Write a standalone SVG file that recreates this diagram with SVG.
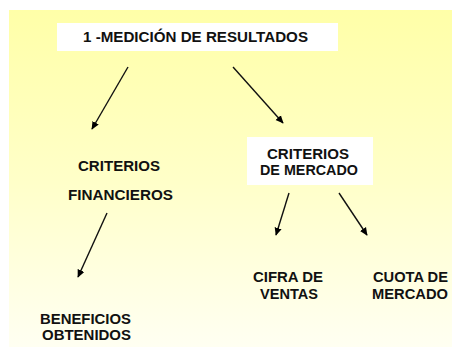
<svg xmlns="http://www.w3.org/2000/svg" width="452" height="347" viewBox="0 0 452 347">
  <defs>
    <linearGradient id="bg" x1="0" y1="0" x2="0" y2="1">
      <stop offset="0" stop-color="#FFFFA8"/>
      <stop offset="0.5" stop-color="#FFFFC8"/>
      <stop offset="1" stop-color="#FFFFF2"/>
    </linearGradient>
    <marker id="ah" viewBox="0 0 10 10" refX="9" refY="5" markerWidth="8" markerHeight="8" markerUnits="userSpaceOnUse" orient="auto">
      <path d="M0,0.5 L10,5 L0,9.5 z" fill="#000"/>
    </marker>
    <style>
      .t { font-family: "Liberation Sans", Arial, sans-serif; font-weight: bold; font-size: 15px; fill: #111; }
      .box { fill: #FFFFFF; }
      .c { stroke: #111; stroke-width: 1.4; fill: none; marker-end: url(#ah); }
    </style>
  </defs>
  <rect x="0" y="0" width="452" height="347" fill="#FFFFFF"/>
  <rect x="9" y="10" width="443" height="337" fill="url(#bg)"/>

  <g id="connectors">
    <line class="c" x1="128" y1="67" x2="92" y2="129"/>
    <line class="c" x1="233" y1="67" x2="283" y2="123"/>
    <line class="c" x1="107" y1="213" x2="78" y2="277"/>
    <line class="c" x1="289" y1="193" x2="276" y2="235"/>
    <line class="c" x1="339" y1="193" x2="367" y2="235"/>
  </g>

  <g id="node-medicion">
    <rect class="box" x="57" y="23" width="281" height="28"/>
    <text class="t" x="83" y="42" textLength="225" lengthAdjust="spacingAndGlyphs">1 -MEDICIÓN DE RESULTADOS</text>
  </g>

  <g id="node-financieros">
    <text class="t" x="78" y="170.5" textLength="82" lengthAdjust="spacingAndGlyphs">CRITERIOS</text>
    <text class="t" x="68" y="200" textLength="105" lengthAdjust="spacingAndGlyphs">FINANCIEROS</text>
  </g>

  <g id="node-mercado">
    <rect class="box" x="247" y="137" width="126" height="48"/>
    <text class="t" x="267" y="158.5" textLength="82" lengthAdjust="spacingAndGlyphs">CRITERIOS</text>
    <text class="t" x="260" y="174.5" textLength="98" lengthAdjust="spacingAndGlyphs">DE MERCADO</text>
  </g>

  <g id="node-beneficios">
    <text class="t" x="40" y="324" textLength="91" lengthAdjust="spacingAndGlyphs">BENEFICIOS</text>
    <text class="t" x="42" y="340" textLength="89" lengthAdjust="spacingAndGlyphs">OBTENIDOS</text>
  </g>

  <g id="node-cifra">
    <text class="t" x="253" y="282" textLength="70" lengthAdjust="spacingAndGlyphs">CIFRA DE</text>
    <text class="t" x="260" y="299" textLength="58" lengthAdjust="spacingAndGlyphs">VENTAS</text>
  </g>

  <g id="node-cuota">
    <text class="t" x="373" y="282" textLength="75" lengthAdjust="spacingAndGlyphs">CUOTA DE</text>
    <text class="t" x="372" y="299" textLength="76" lengthAdjust="spacingAndGlyphs">MERCADO</text>
  </g>
</svg>
